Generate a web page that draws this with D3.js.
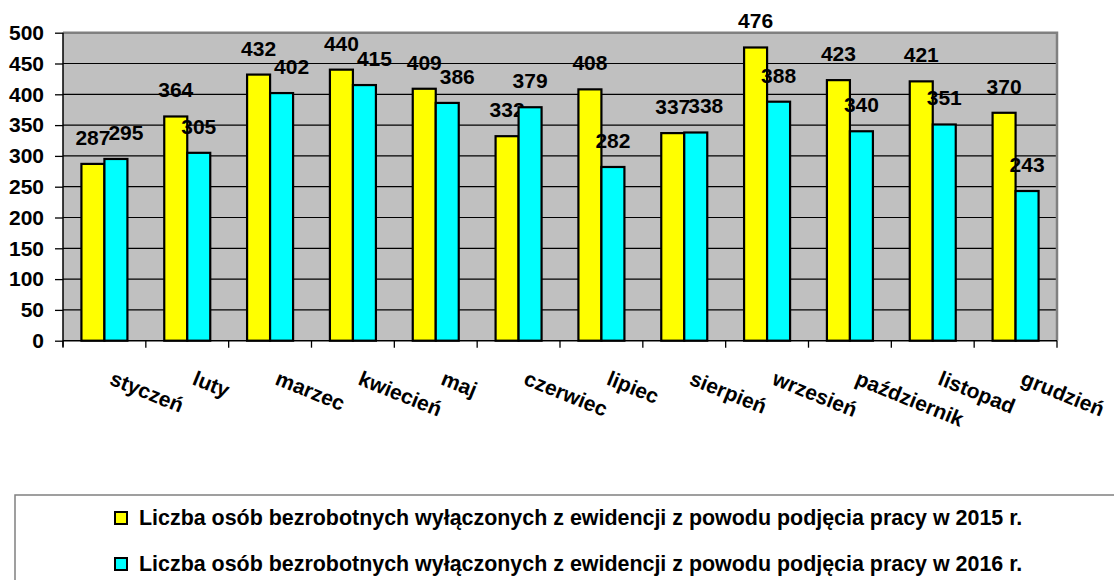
<!DOCTYPE html>
<html><head><meta charset="utf-8">
<script src="https://cdn.jsdelivr.net/npm/d3@7"></script>
<style>body{margin:0;background:#fff}svg{display:block}text{font-family:"Liberation Sans",Arial,sans-serif;font-weight:bold}</style>
</head><body><svg id="c" width="1114" height="580"></svg>
<script>
const months = ["styczeń","luty","marzec","kwiecień","maj","czerwiec","lipiec","sierpień","wrzesień","październik","listopad","grudzień"];
const values2015 = [287,364,432,440,409,332,408,337,476,423,421,370];
const values2016 = [295,305,402,415,386,379,282,338,388,340,351,243];
const seriesNames = ["Liczba osób bezrobotnych wyłączonych z ewidencji z powodu podjęcia pracy w 2015 r.","Liczba osób bezrobotnych wyłączonych z ewidencji z powodu podjęcia pracy w 2016 r."];
const yTicks = [0,50,100,150,200,250,300,350,400,450,500];
const colors = ["#FFFF00","#00FFFF"];

const svg = d3.select("#c");
const L=63,R=1057,T=32.7,B=340.7;
const x = d3.scaleBand().domain(months).range([L,R]).paddingInner(0).paddingOuter(0);
const y = d3.scaleLinear().domain([0,500]).range([B,T]);
const xs = d3.scaleBand().domain([0,1]).range([0,46]);
const FS=21;

svg.append("rect").attr("x",L).attr("y",T).attr("width",R-L).attr("height",B-T).attr("fill","#C0C0C0");
svg.append("g").selectAll("line").data(yTicks.filter(d=>d>0&&d<500)).join("line")
  .attr("x1",L).attr("x2",R).attr("y1",d=>y(d)).attr("y2",d=>y(d)).attr("stroke","#000").attr("stroke-width",1.2);
svg.append("path").attr("d",`M${L},${T}H${R}V${B}`).attr("fill","none").attr("stroke","#808080").attr("stroke-width",2.5);

const series=[values2015,values2016];
const labelG=[];
series.forEach((vals,si)=>{
  const g=svg.append("g");
  g.selectAll("rect").data(vals).join("rect")
    .attr("x",(d,i)=>x(months[i])+x.bandwidth()/2-23+xs(si))
    .attr("y",d=>y(d)).attr("width",xs.bandwidth()).attr("height",d=>B-y(d))
    .attr("fill",colors[si]).attr("stroke","#000").attr("stroke-width",2.2);
  labelG.push(g.selectAll("text").data(vals).join("text")
    .attr("x",(d,i)=>x(months[i])+x.bandwidth()/2-23+xs(si)+xs.bandwidth()/2)
    .attr("y",d=>y(d)-19).attr("text-anchor","middle").attr("font-size",FS).attr("fill","#000")
    .text(d=>d));
});
// nudge second-series labels right when they collide with first-series labels
const n1=labelG[0].nodes(), n2=labelG[1].nodes();
n2.forEach((t,i)=>{
  const a=n1[i].getBBox(), b=t.getBBox();
  if(Math.abs(a.y-b.y)<a.height*0.9 && b.x<a.x+a.width){
    const shift=a.x+a.width-2-b.x;
    t.setAttribute("x",+t.getAttribute("x")+shift);
  }
});

const ya=svg.append("g").attr("transform",`translate(${L},0)`)
  .call(d3.axisLeft(y).tickValues(yTicks).tickSize(8).tickPadding(11));
ya.select(".domain").attr("stroke","#000").attr("stroke-width",1.5).attr("d",`M0,${T}V${B+6}`);
ya.selectAll(".tick line").attr("stroke","#000").attr("stroke-width",1.3);
ya.selectAll(".tick text").attr("font-size",FS).attr("fill","#000").attr("font-family","Liberation Sans, Arial").attr("font-weight","bold");

const xa=svg.append("g");
xa.append("line").attr("x1",L).attr("x2",R).attr("y1",B).attr("y2",B).attr("stroke","#000").attr("stroke-width",1.5);
xa.selectAll(".xt").data(months.concat(["_end"])).join("line").attr("class","xt")
  .attr("x1",(d,i)=>i<12?x(d):R).attr("x2",(d,i)=>i<12?x(d):R).attr("y1",B).attr("y2",B+7)
  .attr("stroke","#000").attr("stroke-width",1.3);
xa.selectAll("text").data(months).join("text")
  .attr("transform",d=>`translate(${x(d)+x.bandwidth()/2+4},384) rotate(22)`)
  .attr("font-size",FS).attr("fill","#000").text(d=>d);

const lg=svg.append("g");
lg.append("rect").attr("x",15).attr("y",495).attr("width",1200).attr("height",200).attr("fill","#fff").attr("stroke","#808080").attr("stroke-width",1.5);
seriesNames.forEach((s,i)=>{
  const yy=525+i*46;
  lg.append("rect").attr("x",115).attr("y",yy-13).attr("width",12).attr("height",12).attr("fill",colors[i]).attr("stroke","#000").attr("stroke-width",2);
  const t=lg.append("text").attr("x",139).attr("y",yy).attr("font-size",19).attr("fill","#000").text(s);
  const w=t.node().getComputedTextLength();
  t.attr("font-size",19*884/w);
});
</script></body></html>
